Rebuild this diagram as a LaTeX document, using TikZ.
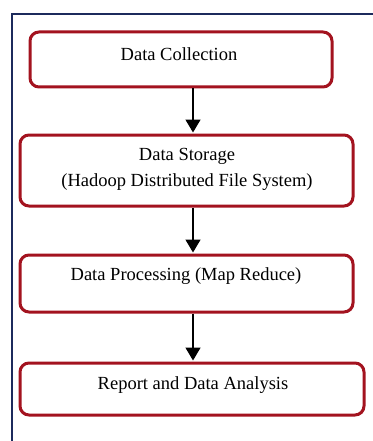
\documentclass[tikz,border=0pt]{standalone}
\usepackage{fontspec}
\setmainfont{Liberation Serif}
\usetikzlibrary{arrows.meta}
\definecolor{boxred}{HTML}{A3131F}
\definecolor{framenavy}{HTML}{1C2A5C}
\tikzset{
  stagebox/.style={draw=boxred, line width=3pt, rounded corners=9pt, fill=white},
  stagetext/.style={font=\fontsize{18.5}{26}\selectfont, align=center, inner sep=0pt},
  flow/.style={line width=1.5pt, -{Triangle[width=15pt,length=13pt]}, shorten >=1pt}
}
\begin{document}
\begin{tikzpicture}[x=1pt,y=-1pt]
  \useasboundingbox (0,0) rectangle (372,441);
  \fill[white] (0,0) rectangle (372,441);
  % outer frame, open to the right and bottom
  \draw[framenavy, line width=2pt] (12,445) -- (12,14) -- (376,14);

  % stage boxes
  \node[stagebox, minimum width=302pt, minimum height=55pt] (b1) at (181,59.5) {};
  \node[stagebox, minimum width=333pt, minimum height=71pt] (b2) at (186.5,170.5) {};
  \node[stagebox, minimum width=333pt, minimum height=57pt] (b3) at (186.5,283.5) {};
  \node[stagebox, minimum width=344pt, minimum height=52pt] (b4) at (192,389) {};

  % stage labels
  \node[stagetext] (t1) at (179,54.5) {Data Collection};
  \node[stagetext] (t2) at (187,169) {Data Storage\\(Hadoop Distributed File System)};
  \node[stagetext] (t3) at (186,276) {Data Processing (Map Reduce)};
  \node[stagetext] (t4) at (193,385) {Report and Data Analysis};

  % connectors, on the vertical line through the last label
  \draw[flow] (b1.south -| t4) -- (b2.north -| t4);
  \draw[flow] (b2.south -| t4) -- (b3.north -| t4);
  \draw[flow] (b3.south -| t4) -- (b4.north -| t4);
\end{tikzpicture}
\end{document}
